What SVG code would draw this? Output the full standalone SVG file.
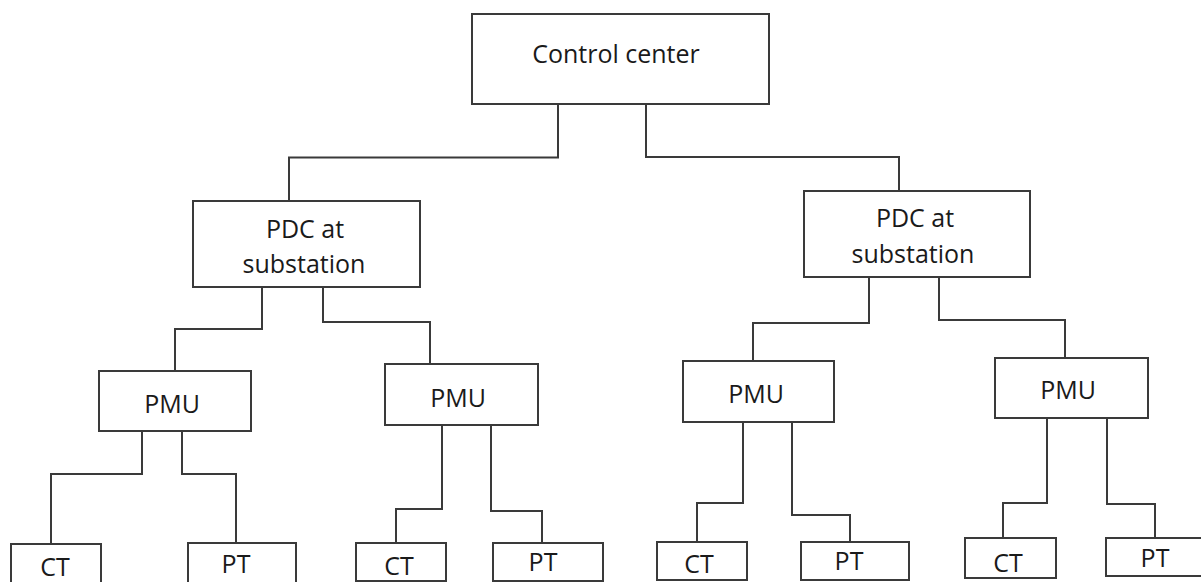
<svg xmlns="http://www.w3.org/2000/svg" width="1201" height="582" viewBox="0 0 1201 582">
<style>
.box{fill:#fff;stroke:#3a3a3a;stroke-width:2}
.lbl{font-family:"Open Sans","Liberation Sans",sans-serif;font-size:25px;fill:#1a1a1a;text-anchor:middle}
.conn{fill:none;stroke:#3a3a3a;stroke-width:2}
</style>
<rect width="1201" height="582" fill="#fff"/>
<g id="connectors">
<path class="conn" d="M558,104 V157.5 H289 V201"/>
<path class="conn" d="M646,104 V157 H899 V191"/>
<path class="conn" d="M262,287 V329 H175 V371"/>
<path class="conn" d="M323,287 V322 H430 V364"/>
<path class="conn" d="M869,277 V323 H753 V361"/>
<path class="conn" d="M939,277 V320 H1065 V358"/>
<path class="conn" d="M142,431 V474 H51 V544"/>
<path class="conn" d="M182,431 V474 H236 V543"/>
<path class="conn" d="M442,425 V509 H396 V543"/>
<path class="conn" d="M491,425 V511 H542 V543"/>
<path class="conn" d="M743,422 V503 H697 V542"/>
<path class="conn" d="M792,422 V515 H850 V542"/>
<path class="conn" d="M1047,418 V503 H1003 V538"/>
<path class="conn" d="M1107,418 V504 H1155 V538"/>
</g>
<g id="control-center">
<rect class="box" x="472" y="14" width="297" height="90"/>
<text class="lbl" x="616" y="63">Control center</text>
</g>
<g id="pdc-left">
<rect class="box" x="193" y="201" width="227" height="86"/>
<text class="lbl" x="305" y="238">PDC at</text>
<text class="lbl" x="304" y="273">substation</text>
</g>
<g id="pdc-right">
<rect class="box" x="804" y="191" width="226" height="86"/>
<text class="lbl" x="915" y="227">PDC at</text>
<text class="lbl" x="913" y="263">substation</text>
</g>
<g id="pmu1">
<rect class="box" x="99" y="371" width="152" height="60"/>
<text class="lbl" x="172" y="413">PMU</text>
</g>
<g id="pmu2">
<rect class="box" x="385" y="364" width="153" height="61"/>
<text class="lbl" x="458" y="407">PMU</text>
</g>
<g id="pmu3">
<rect class="box" x="683" y="361" width="151" height="61"/>
<text class="lbl" x="756" y="403">PMU</text>
</g>
<g id="pmu4">
<rect class="box" x="995" y="358" width="153" height="60"/>
<text class="lbl" x="1068" y="399">PMU</text>
</g>
<g id="ct1">
<rect class="box" x="11" y="544" width="90" height="44"/>
<text class="lbl" x="55" y="576">CT</text>
</g>
<g id="pt1">
<rect class="box" x="188" y="543" width="108" height="44"/>
<text class="lbl" x="236" y="573">PT</text>
</g>
<g id="ct2">
<rect class="box" x="356" y="543" width="90" height="38"/>
<text class="lbl" x="399" y="575">CT</text>
</g>
<g id="pt2">
<rect class="box" x="493" y="543" width="110" height="38"/>
<text class="lbl" x="543" y="571">PT</text>
</g>
<g id="ct3">
<rect class="box" x="657" y="542" width="90" height="38"/>
<text class="lbl" x="699" y="573">CT</text>
</g>
<g id="pt3">
<rect class="box" x="801" y="542" width="108" height="38"/>
<text class="lbl" x="849" y="570">PT</text>
</g>
<g id="ct4">
<rect class="box" x="965" y="538" width="91" height="40"/>
<text class="lbl" x="1008" y="572">CT</text>
</g>
<g id="pt4">
<rect class="box" x="1106" y="538" width="96" height="38"/>
<text class="lbl" x="1155" y="567">PT</text>
</g>
</svg>
